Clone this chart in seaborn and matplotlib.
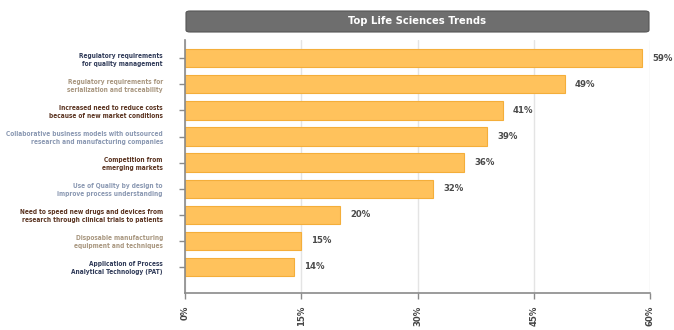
import matplotlib
matplotlib.use("Agg")
import matplotlib.pyplot as plt
from matplotlib.patches import FancyBboxPatch
import seaborn as sns
import pandas as pd

categories = [
    "Regulatory requirements\nfor quality management",
    "Regulatory requirements for\nserialization and traceability",
    "Increased need to reduce costs\nbecause of new market conditions",
    "Collaborative business models with outsourced\nresearch and manufacturing companies",
    "Competition from\nemerging markets",
    "Use of Quality by design to\nimprove process understanding",
    "Need to speed new drugs and devices from\nresearch through clinical trials to patients",
    "Disposable manufacturing\nequipment and techniques",
    "Application of Process\nAnalytical Technology (PAT)",
]
values = [59, 49, 41, 39, 36, 32, 20, 15, 14]
label_colors = ["#2f3a58", "#a8967f", "#5a3320", "#8a98b2", "#5a3320",
                "#8a98b2", "#5a3320", "#a8967f", "#2f3a58"]
xticks = [0, 15, 30, 45, 60]
title = "Top Life Sciences Trends"

sns.set_theme(style="white")
plt.rcParams['font.family'] = ['DejaVu Sans']
plt.rcParams['font.stretch'] = 'condensed'

df = pd.DataFrame({"cat": categories, "val": values})

fig = plt.figure(figsize=(6.74, 3.30), dpi=100)
ax = fig.add_axes([185/674, 1-293/330, (650-185)/674, (293-40)/330])

sns.barplot(data=df, x="val", y="cat", orient="h", color="#FFC25C",
            edgecolor="#F4AE3A", linewidth=0.8, width=0.7, ax=ax, saturation=1)

ax.set_xlim(0, 60)
ax.set_ylim(9.0, -0.7)
ax.set_xticks(xticks)
ax.set_xticklabels([f"{t}%" for t in xticks], rotation=90, fontsize=6.8,
                   color="#444444", fontweight="bold", fontstretch="condensed")
ax.set_xlabel("")
ax.set_ylabel("")
ax.set_yticks(range(len(categories)))
ax.set_yticklabels(categories, fontsize=4.7, fontweight="bold", linespacing=1.35,
                   fontstretch="condensed")
for lab, c in zip(ax.get_yticklabels(), label_colors):
    lab.set_color(c)

ax.xaxis.grid(True, color="#e4e4e4", linewidth=1)
ax.set_axisbelow(True)
for s in ["top", "right"]:
    ax.spines[s].set_visible(False)
for s in ["left", "bottom"]:
    ax.spines[s].set_color("#8a8a8a")
    ax.spines[s].set_linewidth(1.2)
ax.tick_params(axis="both", which="both", length=4, color="#8a8a8a",
               width=1, direction="out", left=True, bottom=True)
ax.tick_params(axis="y", pad=12)
ax.tick_params(axis="x", pad=5)

for i, v in enumerate(values):
    ax.text(v + 1.3, i, f"{v}%", va="center", ha="left", fontsize=6.8,
            fontweight="bold", color="#4a4a4a", fontstretch="condensed")

# Title box
box = FancyBboxPatch((186/674, 1-32/330), (649-186)/674, 21/330,
                     boxstyle="round,pad=0,rounding_size=0.006",
                     transform=fig.transFigure, facecolor="#6e6e6e",
                     edgecolor="#555555", linewidth=0.8)
fig.patches.append(box)
fig.text((186+649)/2/674, 1-21.5/330, title, ha="center", va="center",
         color="white", fontsize=8, fontweight="bold", fontstretch="condensed")

fig.savefig("out.png", dpi=100)
